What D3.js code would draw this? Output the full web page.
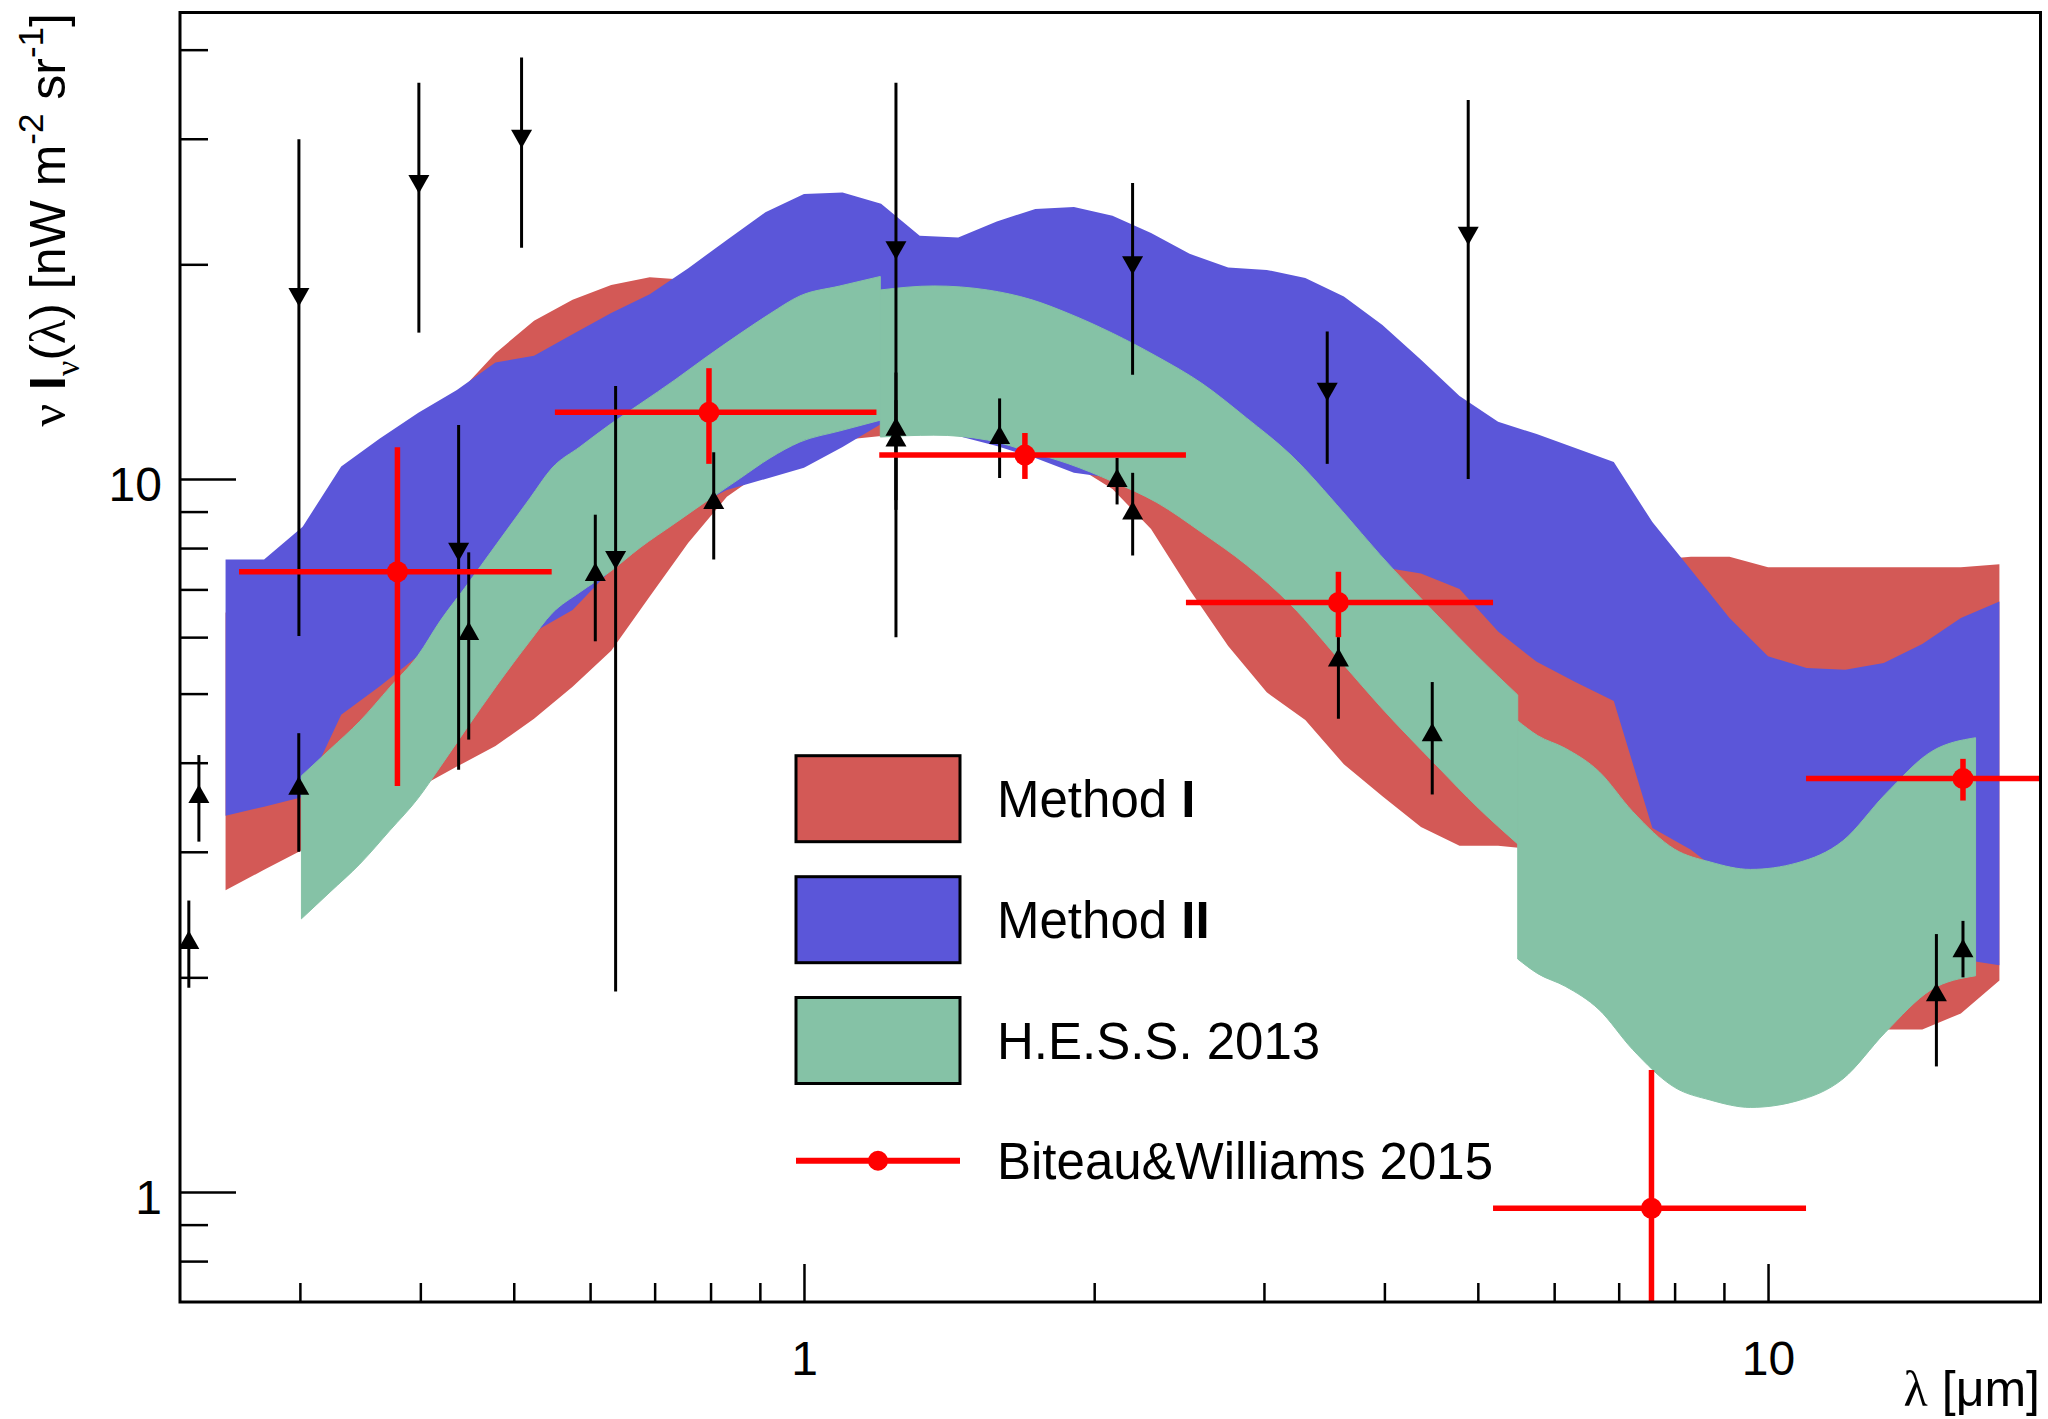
<!DOCTYPE html>
<html>
<head>
<meta charset="utf-8">
<script src="https://cdn.jsdelivr.net/npm/d3@7"></script>
<style>
  html, body { margin: 0; padding: 0; background: #fff; }
  svg { display: block; }
</style>
</head>
<body>
<svg id="chart" width="2048" height="1419"></svg>
<script>
// ---------------------------------------------------------------
// EBL spectral energy distribution: nu I_nu(lambda) vs wavelength
// ---------------------------------------------------------------

// Common wavelength grid (micron) of the Method I / Method II bands
const gridLambda = [0.2512, 0.2754, 0.3020, 0.3311, 0.3631, 0.3981, 0.4365, 0.4786, 0.5248, 0.5754,
  0.6310, 0.6918, 0.7586, 0.8318, 0.9120, 1.0, 1.0965, 1.2023, 1.3183, 1.4454,
  1.5849, 1.7378, 1.9055, 2.0893, 2.2909, 2.5119, 2.7542, 3.0200, 3.3113, 3.6308,
  3.9811, 4.3652, 4.7863, 5.2481, 5.7544, 6.3096, 6.9183, 7.5858, 8.3176, 9.1201,
  10.0, 10.965, 12.023, 13.183, 14.454, 15.849, 17.378];

// Method I band (nW m^-2 sr^-1)
const method1Upper = [6.49, 7.34, 8.48, 9.81, 10.80, 11.90, 13.12, 15.01, 16.67, 17.83,
  18.71, 19.18, 19.01, 18.89, 18.77, 18.65, 18.41, 18.06, 17.83, 17.54,
  17.26, 16.82, 16.44, 16.08, 15.57, 15.07, 14.59, 14.22, 13.99, 13.77,
  13.55, 12.10, 10.77, 9.90, 9.53, 9.11, 8.70, 7.70, 7.78, 7.78,
  7.52, 7.52, 7.52, 7.52, 7.52, 7.52, 7.59];
const method1Lower = [2.65, 2.83, 3.02, 3.27, 3.49, 3.69, 3.95, 4.22, 4.61, 5.11,
  5.74, 6.84, 8.14, 9.44, 10.30, 10.91, 11.34, 11.49, 11.65, 11.56,
  11.34, 10.98, 10.46, 9.68, 8.51, 6.99, 5.83, 5.02, 4.59, 3.98,
  3.59, 3.25, 3.06, 3.06, 3.02, 2.83, 2.57, 2.33, 2.12, 1.92,
  1.80, 1.71, 1.69, 1.69, 1.69, 1.78, 1.98];

// Method II band
const method2Upper = [7.71, 7.71, 8.57, 10.41, 11.40, 12.38, 13.33, 14.56, 14.89, 15.96,
  17.09, 18.16, 19.75, 21.64, 23.66, 25.10, 25.21, 24.31, 21.94, 21.80,
  22.96, 23.92, 24.07, 23.40, 22.13, 20.69, 19.79, 19.64, 19.14, 18.02,
  16.44, 14.69, 13.07, 12.03, 11.56, 11.05, 10.56, 8.70, 7.46, 6.38,
  5.64, 5.43, 5.40, 5.52, 5.87, 6.38, 6.73];
const method2Lower = [3.37, 3.47, 3.58, 4.67, 5.12, 5.65, 5.79, 5.95, 6.10, 6.55,
  7.46, 8.26, 9.05, 9.65, 10.0, 10.37, 11.09, 11.94, 11.79, 11.49,
  11.12, 10.70, 10.20, 10.03, 9.65, 9.19, 8.76, 8.35, 8.00, 7.70,
  7.52, 7.37, 7.01, 6.11, 5.54, 5.19, 4.88, 3.24, 3.02, 2.74,
  2.57, 2.41, 2.29, 2.22, 2.15, 2.12, 2.08];

// H.E.S.S. 2013 band, three wavelength ranges
const hessLambdaA = [0.3011, 0.3224, 0.3462, 0.3720, 0.3978, 0.4193, 0.4449, 0.4803, 0.5197, 0.5479,
  0.5855, 0.6290, 0.6759, 0.7348, 0.7896, 0.8584, 0.9220, 0.9905, 1.0898, 1.2];
const hessUpperA = [3.834, 4.176, 4.574, 5.105, 5.658, 6.320, 7.038, 8.116, 9.397, 10.36,
  11.09, 11.92, 12.74, 13.77, 14.78, 15.99, 17.05, 18.06, 18.65, 19.23];
const hessLowerA = [2.416, 2.634, 2.884, 3.215, 3.565, 3.944, 4.432, 5.136, 5.924, 6.481,
  6.937, 7.409, 8.009, 8.667, 9.278, 10.02, 10.70, 11.27, 11.68, 12.09];

const hessLambdaB = [1.2, 1.3636, 1.5500, 1.7240, 1.8783, 2.0893, 2.3232, 2.5859, 2.8769, 3.2003,
  3.6236, 3.9581, 4.5561, 4.9885, 5.5];
const hessUpperB = [18.41, 18.65, 18.41, 17.83, 17.08, 16.01, 14.85, 13.62, 12.18, 10.80,
  8.99, 7.832, 6.404, 5.651, 4.978];
const hessLowerB = [11.45, 11.52, 11.34, 10.89, 10.51, 9.92, 9.267, 8.411, 7.575, 6.658,
  5.502, 4.801, 3.933, 3.471, 3.077];

const hessLambdaC = [5.5, 5.770, 6.161, 6.676, 7.235, 8.000, 8.708, 9.588, 10.717, 11.960,
  13.225, 14.770, 16.416];
const hessUpperC = [4.578, 4.365, 4.191, 3.889, 3.418, 3.025, 2.903, 2.834, 2.894, 3.108,
  3.609, 4.145, 4.336];
const hessLowerC = [2.122, 2.024, 1.943, 1.803, 1.585, 1.402, 1.346, 1.314, 1.342, 1.441,
  1.673, 1.922, 2.010];

// Biteau & Williams 2015 points with wavelength bins and errors
const bwLambda     = [0.3787, 0.797, 1.695, 3.584, 7.57, 15.93];
const bwValue      = [7.41, 12.4, 10.8, 6.71, 0.949, 3.80];
const bwLambdaLow  = [0.2594, 0.5516, 1.197, 2.49, 5.185, 10.95];
const bwLambdaHigh = [0.5474, 1.189, 2.49, 5.185, 10.95, 23.0];
const bwValueLow   = [3.71, 10.5, 10.0, 6.0, 0.5, 3.54];
const bwValueHigh  = [11.08, 14.3, 11.6, 7.41, 1.483, 4.05];

// Direct measurements: upper limits (down triangles) and lower limits (up triangles)
const limitLambda = [0.2301, 0.2357, 0.2993, 0.2992, 0.3986, 0.4383, 0.4490, 0.5094, 0.6075, 0.6377,
  0.8061, 1.2457, 1.2457, 1.2457, 1.5956, 2.1124, 2.1921, 2.1925, 3.4894, 3.5839,
  4.4843, 4.8865, 14.95, 15.93];
const limitValue = [2.249, 3.605, 18.06, 3.70, 26.0, 7.93, 6.10, 30.1, 7.38, 7.72,
  9.31, 21.0, 11.8, 11.4, 11.49, 10.0, 20.0, 9.0, 13.3, 5.60,
  4.40, 22.0, 1.90, 2.19];
const limitLow = [1.934, 3.10, 6.02, 3.00, 16.04, 3.91, 4.31, 21.1, 5.92, 1.91,
  7.71, 6.00, 9.34, 9.05, 10.03, 9.21, 14.0, 7.81, 10.5, 4.61,
  3.61, 10.0, 1.50, 2.00];
const limitHigh = [2.563, 4.10, 29.95, 4.40, 35.96, 11.9, 7.89, 39.0, 8.91, 13.5,
  10.9, 35.96, 14.1, 12.9, 12.97, 10.7, 26.0, 10.2, 16.1, 6.00,
  5.19, 34.0, 2.30, 2.40];
const limitKind = ['lower', 'lower', 'upper', 'lower', 'upper', 'upper', 'lower', 'upper', 'lower', 'upper',
  'lower', 'upper', 'lower', 'lower', 'lower', 'lower', 'upper', 'lower', 'upper', 'lower',
  'lower', 'upper', 'lower', 'lower'];

// Axis ticks
const xMajorTicks = [1, 10];
const xMinorTicks = [0.3, 0.4, 0.5, 0.6, 0.7, 0.8, 0.9, 2, 3, 4, 5, 6, 7, 8, 9];
const yMajorTicks = [1, 10];
const yMinorTicks = [0.8, 0.9, 2, 3, 4, 5, 6, 7, 8, 9, 20, 30, 40];

// Legend entries
const legendLabels = [
  ['Method ', 'I'],
  ['Method ', 'II'],
  ['H.E.S.S. 2013', ''],
  ['Biteau&Williams 2015', '']
];

// ---------------------------------------------------------------
const COLORS = {
  method1: '#d35956',
  method2: '#5b56d9',
  hess: '#85c2a6',
  bw: '#ff0000',
  ink: '#000000'
};
const SANS = '"Liberation Sans", Arial, Helvetica, sans-serif';
const SERIF = '"Liberation Serif", "DejaVu Serif", serif';

const W = 2048, H = 1419;
const frame = { left: 180, right: 2040.5, top: 12.5, bottom: 1302 };

const x = d3.scaleLog().domain([0.2253, 19.17]).range([frame.left, frame.right]);
const y = d3.scaleLog().domain([0.701, 45.1]).range([frame.bottom, frame.top]);

const svg = d3.select('#chart');
svg.append('rect').attr('width', W).attr('height', H).attr('fill', '#fff');

svg.append('defs').append('clipPath').attr('id', 'plot-clip')
  .append('rect')
  .attr('x', frame.left).attr('y', frame.top)
  .attr('width', frame.right - frame.left)
  .attr('height', frame.bottom - frame.top);

const plot = svg.append('g').attr('clip-path', 'url(#plot-clip)');

// ---- bands ----
const rows = (lams, lo, hi) => lams.map((l, i) => ({ l, lo: lo[i], hi: hi[i] }));
const straightBand = d3.area().x(d => x(d.l)).y0(d => y(d.lo)).y1(d => y(d.hi));
const smoothBand = d3.area().curve(d3.curveMonotoneX)
  .x(d => x(d.l)).y0(d => y(d.lo)).y1(d => y(d.hi));

plot.append('path')
  .datum(rows(gridLambda, method1Lower, method1Upper))
  .attr('d', straightBand)
  .attr('fill', COLORS.method1);

plot.append('path')
  .datum(rows(gridLambda, method2Lower, method2Upper))
  .attr('d', straightBand)
  .attr('fill', COLORS.method2);

[[hessLambdaA, hessLowerA, hessUpperA],
 [hessLambdaB, hessLowerB, hessUpperB],
 [hessLambdaC, hessLowerC, hessUpperC]].forEach(([l, lo, hi]) => {
  plot.append('path')
    .datum(rows(l, lo, hi))
    .attr('d', smoothBand)
    .attr('fill', COLORS.hess)
    .attr('stroke', COLORS.hess)
    .attr('stroke-width', 1);
});

// ---- limits (black) ----
const triUp = 'M0,-10.5 L10.5,8 L-10.5,8 Z';
const triDown = 'M0,10.5 L10.5,-8 L-10.5,-8 Z';
const limits = limitLambda.map((l, i) => ({
  l, v: limitValue[i], lo: limitLow[i], hi: limitHigh[i], kind: limitKind[i]
}));
const limG = plot.append('g');
limG.selectAll('line.lim').data(limits).join('line')
  .attr('class', 'lim')
  .attr('x1', d => x(d.l)).attr('x2', d => x(d.l))
  .attr('y1', d => y(d.hi)).attr('y2', d => y(d.lo))
  .attr('stroke', COLORS.ink).attr('stroke-width', 3);
limG.selectAll('path.lim').data(limits).join('path')
  .attr('class', 'lim')
  .attr('transform', d => `translate(${x(d.l)},${y(d.v)})`)
  .attr('d', d => d.kind === 'upper' ? triDown : triUp)
  .attr('fill', COLORS.ink);

// ---- Biteau & Williams points (red) ----
const bw = bwLambda.map((l, i) => ({
  l, v: bwValue[i], l0: bwLambdaLow[i], l1: bwLambdaHigh[i], v0: bwValueLow[i], v1: bwValueHigh[i]
}));
const bwG = plot.append('g');
bwG.selectAll('line.bwx').data(bw).join('line')
  .attr('class', 'bwx')
  .attr('x1', d => x(d.l0)).attr('x2', d => x(d.l1))
  .attr('y1', d => y(d.v)).attr('y2', d => y(d.v))
  .attr('stroke', COLORS.bw).attr('stroke-width', 5.5);
bwG.selectAll('line.bwy').data(bw).join('line')
  .attr('class', 'bwy')
  .attr('x1', d => x(d.l)).attr('x2', d => x(d.l))
  .attr('y1', d => y(d.v1)).attr('y2', d => y(d.v0))
  .attr('stroke', COLORS.bw).attr('stroke-width', 5.5);
bwG.selectAll('circle').data(bw).join('circle')
  .attr('cx', d => x(d.l)).attr('cy', d => y(d.v)).attr('r', 10.5)
  .attr('fill', COLORS.bw);

// ---- axes (ticks inside the frame) ----
function styleAxis(g) {
  g.select('.domain').remove();
  g.selectAll('line').attr('stroke', COLORS.ink).attr('stroke-width', 2.5);
  g.selectAll('text').attr('fill', COLORS.ink);
  g.attr('font-family', SANS).attr('font-size', 48);
}

svg.append('g')
  .attr('transform', `translate(${frame.left},0)`)
  .call(d3.axisLeft(y).tickValues(yMinorTicks).tickSize(-28).tickFormat(''))
  .call(styleAxis);
svg.append('g')
  .attr('transform', `translate(${frame.left},0)`)
  .call(d3.axisLeft(y).tickValues(yMajorTicks).tickSize(-56).tickPadding(18).tickFormat(d3.format('d')))
  .call(styleAxis)
  .call(g => g.selectAll('text').attr('dy', '0.44em'));

svg.append('g')
  .attr('transform', `translate(0,${frame.bottom})`)
  .call(d3.axisBottom(x).tickValues(xMinorTicks).tickSize(-19).tickFormat(''))
  .call(styleAxis);
svg.append('g')
  .attr('transform', `translate(0,${frame.bottom})`)
  .call(d3.axisBottom(x).tickValues(xMajorTicks).tickSize(-38).tickPadding(39).tickFormat(d3.format('d')))
  .call(styleAxis);

// ---- frame ----
svg.append('rect')
  .attr('x', frame.left).attr('y', frame.top)
  .attr('width', frame.right - frame.left).attr('height', frame.bottom - frame.top)
  .attr('fill', 'none').attr('stroke', COLORS.ink).attr('stroke-width', 3);

// ---- axis titles ----
const xTitle = svg.append('text')
  .attr('x', 2040).attr('y', 1406)
  .attr('text-anchor', 'end')
  .attr('font-family', SANS).attr('font-size', 50)
  .style('white-space', 'pre');
xTitle.append('tspan').attr('font-family', SERIF).text('λ');
xTitle.append('tspan').text(' [μm]');

const yTitle = svg.append('text')
  .attr('transform', 'translate(65,13) rotate(-90)')
  .attr('text-anchor', 'end')
  .attr('font-family', SANS).attr('font-size', 50)
  .style('white-space', 'pre');
yTitle.append('tspan').attr('font-family', SERIF).text('ν');
yTitle.append('tspan').text(' ');
yTitle.append('tspan').attr('font-weight', 'bold').text('I');
yTitle.append('tspan').attr('font-family', SERIF).attr('font-size', 34).attr('dy', 14).text('ν');
yTitle.append('tspan').attr('dy', -14).text('(');
yTitle.append('tspan').attr('font-family', SERIF).text('λ');
yTitle.append('tspan').text(') [nW m');
yTitle.append('tspan').attr('font-size', 35).attr('dy', -22).text('-2');
yTitle.append('tspan').attr('dy', 22).text(' sr');
yTitle.append('tspan').attr('font-size', 35).attr('dy', -22).text('-1');
yTitle.append('tspan').attr('dy', 22).text(']');

// ---- legend ----
const legend = svg.append('g');
const legendRowY = [798.7, 919.7, 1040.5, 1160.7];
const legendFills = [COLORS.method1, COLORS.method2, COLORS.hess];
const symX0 = 796, symX1 = 960, textX = 997;

legendFills.forEach((c, i) => {
  legend.append('rect')
    .attr('x', symX0).attr('y', legendRowY[i] - 43)
    .attr('width', symX1 - symX0).attr('height', 86)
    .attr('fill', c).attr('stroke', COLORS.ink).attr('stroke-width', 3);
});
legend.append('line')
  .attr('x1', symX0).attr('x2', symX1)
  .attr('y1', legendRowY[3]).attr('y2', legendRowY[3])
  .attr('stroke', COLORS.bw).attr('stroke-width', 6);
legend.append('circle')
  .attr('cx', (symX0 + symX1) / 2).attr('cy', legendRowY[3]).attr('r', 10)
  .attr('fill', COLORS.bw);

legendLabels.forEach(([plain, bold], i) => {
  const t = legend.append('text')
    .attr('x', textX).attr('y', legendRowY[i]).attr('dy', '0.36em')
    .attr('font-family', SANS).attr('font-size', 51)
    .style('white-space', 'pre')
    .attr('fill', COLORS.ink);
  t.append('tspan').text(plain);
  if (bold) t.append('tspan').attr('font-weight', 'bold').text(bold);
});
</script>
</body>
</html>
